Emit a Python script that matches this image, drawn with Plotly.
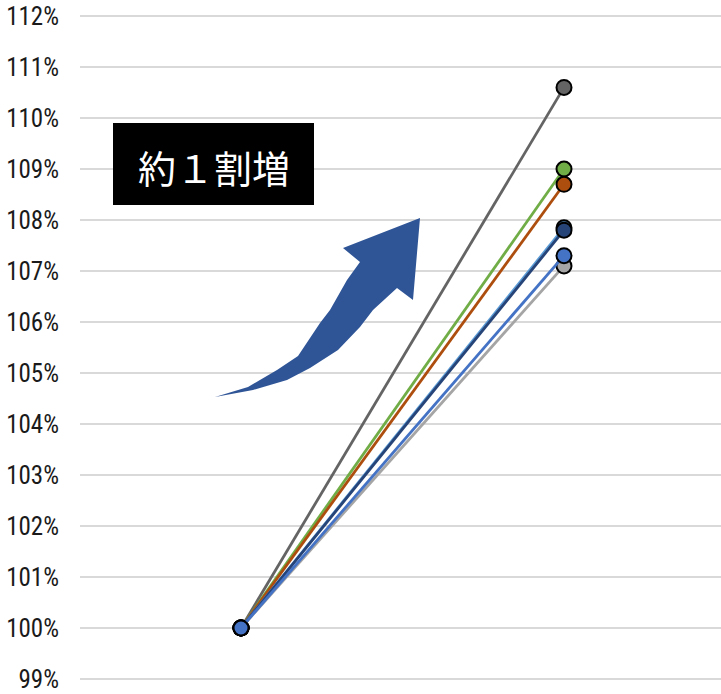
import plotly.graph_objects as go

# ---- data ----
categories = [0, 1]
series_names = ["A", "B", "C", "D", "E", "F", "G"]
start_values = [1.00, 1.00, 1.00, 1.00, 1.00, 1.00, 1.00]
end_values = [1.106, 1.090, 1.087, 1.071, 1.0785, 1.078, 1.073]
line_colors = ["#646464", "#70AD47", "#AE4E0E", "#A5A5A5", "#5B9BD5", "#264478", "#4472C4"]
label_text = "約１割増"

W, H = 721, 694
L, R, T, B = 80, 0, 10, 10
plot_w = W - L - R
plot_h = H - T - B

xs = 323.0
x0 = -(241 - L) / xs
x1 = x0 + plot_w / xs
ys = 5100.0
y0 = 1.00 - (H - B - 628) / ys
y1 = y0 + plot_h / ys


def px2d(px, py):
    return x0 + (px - L) / xs, y0 + (H - B - py) / ys


fig = go.Figure()
for name, s, e, c in zip(series_names, start_values, end_values, line_colors):
    fig.add_trace(go.Scatter(
        x=categories, y=[s, e], mode="lines+markers", name=name,
        line=dict(color=c, width=2.8),
        marker=dict(size=15, color=c, line=dict(color="black", width=2)),
        showlegend=False, hoverinfo="skip",
    ))

upper = [(248, 387), (277, 370), (298, 356), (320, 323), (330, 310), (347, 280), (360, 262)]
lower = [(253, 390), (287, 380), (310, 368), (338, 350), (360, 327), (373, 310), (397, 288)]
head = [(413, 300), (420, 218), (343, 248)]
arrow_px = [(215, 397)] + lower + head + upper[::-1]
pts = [px2d(a, b) for a, b in arrow_px]
path = "M " + " L ".join(f"{a:.5f},{b:.5f}" for a, b in pts) + " Z"
fig.add_shape(type="path", path=path, xref="x", yref="y",
              fillcolor="#2F5597", line=dict(width=0), layer="above")

bx0, by0 = px2d(113, 205)
bx1, by1 = px2d(314, 123)
fig.add_shape(type="rect", x0=bx0, y0=by0, x1=bx1, y1=by1, xref="x", yref="y",
              fillcolor="black", line=dict(width=0))
tx, ty = px2d(213.5, 166)
fig.add_annotation(x=tx, y=ty, xref="x", yref="y", text=label_text, showarrow=False,
                   font=dict(family="Noto Sans CJK JP", size=38, color="white"))

fig.update_layout(
    width=W, height=H,
    margin=dict(l=L, r=R, t=T, b=B),
    plot_bgcolor="white", paper_bgcolor="white",
    xaxis=dict(range=[x0, x1], showgrid=False, zeroline=False, showticklabels=False,
               showline=False, ticks="", automargin=False),
    yaxis=dict(range=[y0, y1], dtick=0.01, tick0=1.0, tickformat=".0%", automargin=False,
               showgrid=True, gridcolor="#D9D9D9", gridwidth=2, zeroline=False,
               showline=False, ticks="", ticklabelstandoff=20,
               tickfont=dict(family="Roboto Condensed, sans-serif",
                             size=25, color="#1a1a1a")),
)

fig.write_html("out.html")
